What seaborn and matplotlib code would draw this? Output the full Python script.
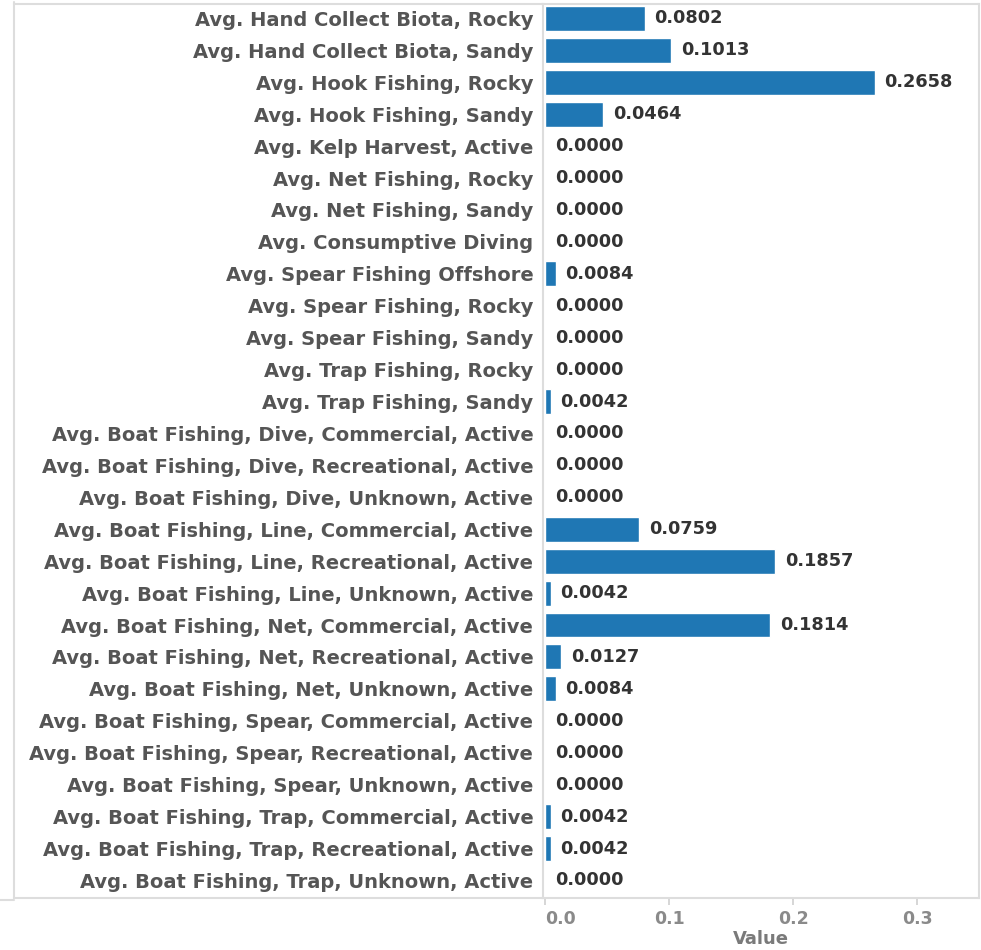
import matplotlib
matplotlib.use("Agg")
import matplotlib.pyplot as plt
import seaborn as sns
import pandas as pd
from matplotlib.lines import Line2D

categories = [
    "Avg. Hand Collect Biota, Rocky",
    "Avg. Hand Collect Biota, Sandy",
    "Avg. Hook Fishing, Rocky",
    "Avg. Hook Fishing, Sandy",
    "Avg. Kelp Harvest, Active",
    "Avg. Net Fishing, Rocky",
    "Avg. Net Fishing, Sandy",
    "Avg. Consumptive Diving",
    "Avg. Spear Fishing Offshore",
    "Avg. Spear Fishing, Rocky",
    "Avg. Spear Fishing, Sandy",
    "Avg. Trap Fishing, Rocky",
    "Avg. Trap Fishing, Sandy",
    "Avg. Boat Fishing, Dive, Commercial, Active",
    "Avg. Boat Fishing, Dive, Recreational, Active",
    "Avg. Boat Fishing, Dive, Unknown, Active",
    "Avg. Boat Fishing, Line, Commercial, Active",
    "Avg. Boat Fishing, Line, Recreational, Active",
    "Avg. Boat Fishing, Line, Unknown, Active",
    "Avg. Boat Fishing, Net, Commercial, Active",
    "Avg. Boat Fishing, Net, Recreational, Active",
    "Avg. Boat Fishing, Net, Unknown, Active",
    "Avg. Boat Fishing, Spear, Commercial, Active",
    "Avg. Boat Fishing, Spear, Recreational, Active",
    "Avg. Boat Fishing, Spear, Unknown, Active",
    "Avg. Boat Fishing, Trap, Commercial, Active",
    "Avg. Boat Fishing, Trap, Recreational, Active",
    "Avg. Boat Fishing, Trap, Unknown, Active",
]
values = [
    0.0802, 0.1013, 0.2658, 0.0464, 0.0000, 0.0000, 0.0000, 0.0000,
    0.0084, 0.0000, 0.0000, 0.0000, 0.0042, 0.0000, 0.0000, 0.0000,
    0.0759, 0.1857, 0.0042, 0.1814, 0.0127, 0.0084, 0.0000, 0.0000,
    0.0000, 0.0042, 0.0042, 0.0000,
]
x_ticks = [0.0, 0.1, 0.2, 0.3]

df = pd.DataFrame({"Measure": categories, "Value": values})

sns.set_theme(style="white")
plt.rcParams['font.family'] = ['DejaVu Sans']
plt.rcParams['font.weight'] = 'bold'

fig = plt.figure(figsize=(9.81, 9.5), dpi=100)
ax = fig.add_axes([543 / 981, 1 - 898 / 950, (979 - 543) / 981, (898 - 4) / 950])

sns.barplot(data=df, x="Value", y="Measure", color="#1f77b4", saturation=1,
            width=0.78, orient="h", ax=ax)

ax.bar_label(ax.containers[0], fmt="%.4f", padding=7, fontsize=12.8,
             color="#333333", fontweight="bold")

ax.set_xlim(-0.002, 0.35)
ax.set_ylim(27.55, -0.45)
ax.set_xticks(x_ticks)
ax.set_xticklabels([f"{t:.1f}" for t in x_ticks])
ax.tick_params(axis="x", colors="#d0d0d0", labelcolor="#8a8a8a", labelsize=12.5,
               length=5, width=1.2, bottom=True, pad=4)
ax.tick_params(axis="y", length=0, labelcolor="#555555", labelsize=14, pad=7)
# first tick label sits to the right of its tick, like the original
first = ax.get_xticklabels()[0]
first.set_horizontalalignment("left")
ax.set_ylabel("")
ax.set_xlabel("Value", color="#7a7a7a", fontsize=13, fontweight="bold", labelpad=1)

for s in ax.spines.values():
    s.set_color("#dddddd")
    s.set_linewidth(1.5)

# outer row-header pane frame
frame = "#dddddd"
fig.add_artist(Line2D([14 / 981, 14 / 981], [1 - 2 / 950, 1 - 898 / 950],
                      transform=fig.transFigure, color=frame, lw=1.5))
fig.add_artist(Line2D([14 / 981, 543 / 981], [1 - 4 / 950, 1 - 4 / 950],
                      transform=fig.transFigure, color=frame, lw=1.5))
fig.add_artist(Line2D([14 / 981, 543 / 981], [1 - 898 / 950, 1 - 898 / 950],
                      transform=fig.transFigure, color=frame, lw=1.5))
fig.add_artist(Line2D([0, 14 / 981], [1 - 900 / 950, 1 - 900 / 950],
                      transform=fig.transFigure, color=frame, lw=1.5))

fig.savefig("out.png", dpi=100)
